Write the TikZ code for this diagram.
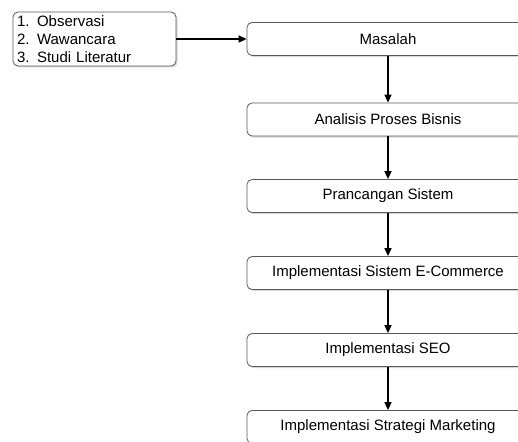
\documentclass[tikz,border=0pt]{standalone}
\usepackage{fontspec}
\setmainfont{Liberation Sans}
\usetikzlibrary{arrows.meta,shadows}
\tikzset{
  stepbox/.style={draw=black!65, line width=0.8pt, rounded corners=5pt, fill=white,
    minimum width=282pt, minimum height=33pt, inner sep=0pt,
    drop shadow={shadow xshift=1.5pt, shadow yshift=-1.5pt, fill=black!30}},
  flow/.style={line width=1.4pt, -{Triangle[length=8pt,width=7pt]}}
}
\begin{document}
\begin{tikzpicture}[x=1pt,y=-1pt,font=\fontsize{15pt}{18pt}\selectfont]
    \useasboundingbox (0,0) rectangle (518,441);
    % sumber data
    \node[stepbox, minimum width=163pt, minimum height=54pt, inner xsep=4pt,
          text width=155pt, align=left] (sumber) at (94.5,39)
          {1. Observasi\\2. Wawancara\\3. Studi Literatur};
    % tahapan
    \node[stepbox] (masalah) at (388,39) {Masalah};
    \node[stepbox] (analisis) at (388,119.5) {Analisis Proses Bisnis};
    \node[stepbox] (rancang) at (388,196) {Prancangan Sistem};
    \node[stepbox] (ecommerce) at (388,273) {Implementasi Sistem E-Commerce};
    \node[stepbox] (seo) at (388,350) {Implementasi SEO};
    \node[stepbox] (marketing) at (388,427) {Implementasi Strategi Marketing};
    \draw[flow] (sumber.east) -- (masalah.west);
    \foreach \a/\b in {masalah/analisis, analisis/rancang, rancang/ecommerce,
                       ecommerce/seo, seo/marketing}
    {
        \draw[flow] (\a.south) -- (\b.north);
    }
\end{tikzpicture}
\end{document}
